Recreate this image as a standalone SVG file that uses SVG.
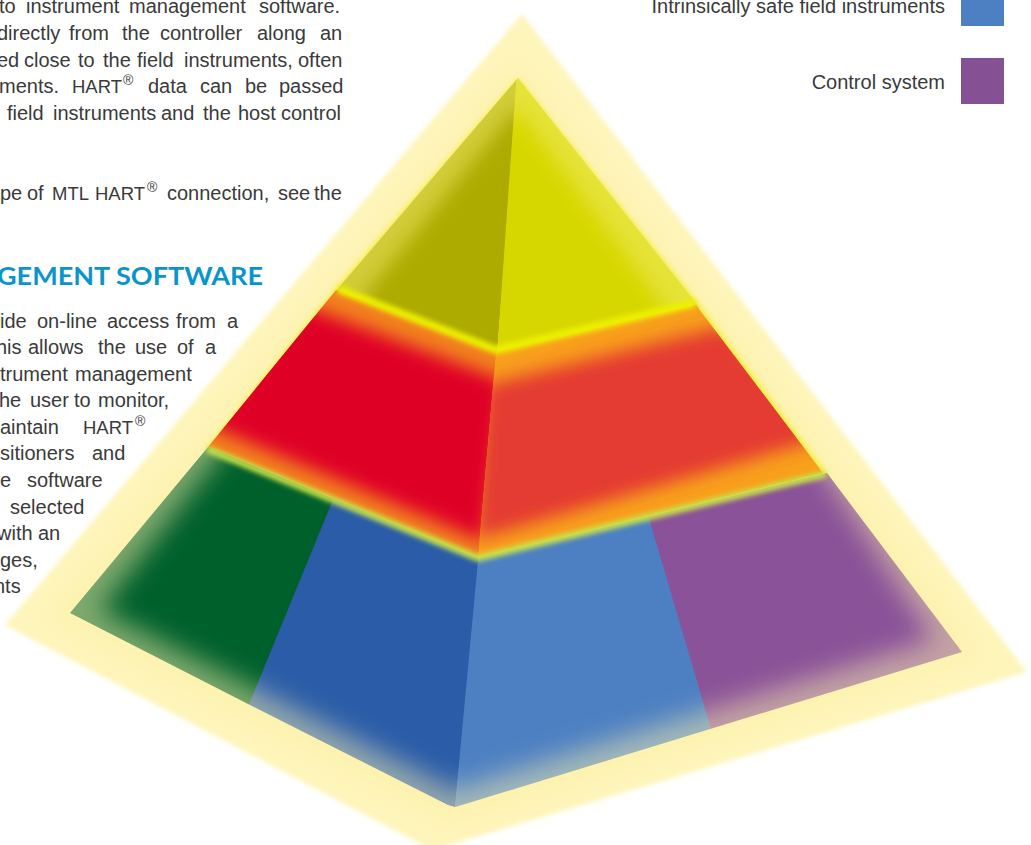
<svg xmlns="http://www.w3.org/2000/svg" width="1031" height="845" viewBox="0 0 1031 845">
<style>
text{font-family:"Liberation Sans",Arial,sans-serif;font-size:20px;fill:#3a3a3a}
.r{font-size:14px}
.c{font-size:18.5px}
.h{font-family:Lato,"Open Sans",sans-serif;font-size:25px;font-weight:700;fill:#0a94cc}
</style>
<defs>
<filter id="b1" x="-10%" y="-10%" width="120%" height="120%"><feGaussianBlur stdDeviation="2"/></filter>
<filter id="b2" x="-10%" y="-10%" width="120%" height="120%"><feGaussianBlur stdDeviation="2.4"/></filter>
<filter id="b6" x="-20%" y="-20%" width="140%" height="140%"><feGaussianBlur stdDeviation="9"/></filter>
<filter id="b9" x="-20%" y="-20%" width="140%" height="140%"><feGaussianBlur stdDeviation="13"/></filter>
<clipPath id="cBot"><polygon points="70,613 208,447 478,558 827,473 962,652 462,805 455,807 448,805 250,705"/></clipPath>
<clipPath id="cTop"><polygon points="518,78 700,308 497,360 335,292"/></clipPath>
<clipPath id="redL"><polygon points="336,290 497,352 479,558 208,447"/></clipPath>
<clipPath id="redR"><polygon points="496,352 696,305 823,473 478,558"/></clipPath>
<mask id="mBot" maskUnits="userSpaceOnUse" x="0" y="400" width="1031" height="445">
<rect x="0" y="400" width="1031" height="445" fill="#808080"/>
<polygon points="255,410 790,420 934,640 455,790 100,610" fill="#fff" filter="url(#b9)"/>
</mask>
<mask id="mTop" maskUnits="userSpaceOnUse" x="300" y="40" width="430" height="340">
<rect x="300" y="40" width="430" height="340" fill="#808080"/>
<polygon points="517,108 690,340 497,380 345,320" fill="#fff" filter="url(#b6)"/>
</mask>
</defs>
<polygon points="522,14 1027,672 432,850 5,625" fill="#fef5bc" filter="url(#b1)"/>
<polygon points="518,60 715,305 985,656 452,825 45,618 335,275" fill="#fdf2ae" filter="url(#b9)"/>
<polygon points="518,78 700,305 827,473 478,558 208,447 336,288" fill="#f5ee40" filter="url(#b2)"/>
<g mask="url(#mBot)" clip-path="url(#cBot)">
<rect x="0" y="400" width="1031" height="445" fill="#fdf0a6"/>
<polygon points="20,640 208,420 345,487 220,775" fill="#00602c"/>
<polygon points="337,490 481,550 450,860 220,775" fill="#2a5ca8"/>
<polygon points="479,550 649,515 730,790 450,860" fill="#4d80c2"/>
<polygon points="648,515 830,450 1010,660 729,790" fill="#8a5298"/>
</g>
<g clip-path="url(#cTop)">
<rect x="300" y="60" width="430" height="320" fill="#f4ee70"/>
<g mask="url(#mTop)">
<polygon points="519,70 497,355 320,300" fill="#adaa00"/>
<polygon points="517,70 715,310 497,355" fill="#d7d700"/>
</g>
</g>
<g clip-path="url(#redL)">
<rect x="200" y="280" width="300" height="280" fill="#f2821f"/>
<polygon points="270,293 505,381 485,542 195,420" fill="#df0028" filter="url(#b6)"/>
</g>
<g clip-path="url(#redR)">
<rect x="475" y="300" width="350" height="260" fill="#f8a01c"/>
<polygon points="485,385 725,326 830,436 475,540" fill="#e43a30" filter="url(#b6)"/>
</g>
<polyline points="338,289 496,350 695,303" fill="none" stroke="#eef000" stroke-width="8" filter="url(#b2)"/>
<polyline points="207,449 478,558 826,474" fill="none" stroke="#c8e34a" stroke-width="7" filter="url(#b2)"/>
<g id="copy">
<text y="13"><tspan x="-1">to</tspan><tspan x="26">instrument</tspan><tspan x="129">management</tspan><tspan x="259">software.</tspan></text>
<text y="40"><tspan x="-3">directly</tspan><tspan x="69">from</tspan><tspan x="122">the</tspan><tspan x="160">controller</tspan><tspan x="257">along</tspan><tspan x="320">an</tspan></text>
<text y="67"><tspan x="-3">ed</tspan><tspan x="24">close</tspan><tspan x="78">to</tspan><tspan x="103">the</tspan><tspan x="137">field</tspan><tspan x="184">instruments,</tspan><tspan x="298">often</tspan></text>
<text y="93"><tspan x="-1">ments.</tspan><tspan x="72" class="c">HART</tspan><tspan x="123" y="85" class="r">®</tspan><tspan x="148" y="93">data</tspan><tspan x="200">can</tspan><tspan x="245">be</tspan><tspan x="279">passed</tspan></text>
<text y="120"><tspan x="7">field</tspan><tspan x="53">instruments</tspan><tspan x="161">and</tspan><tspan x="203">the</tspan><tspan x="238">host</tspan><tspan x="281">control</tspan></text>
<text y="200"><tspan x="0">pe</tspan><tspan x="27">of</tspan><tspan x="52" class="c">MTL</tspan><tspan x="95" class="c">HART</tspan><tspan x="147" y="192" class="r">®</tspan><tspan x="167" y="200">connection,</tspan><tspan x="278">see</tspan><tspan x="314">the</tspan></text>
<text class="h" x="-3" y="285" textLength="266" lengthAdjust="spacingAndGlyphs">GEMENT SOFTWARE</text>
<text y="328"><tspan x="0">ide</tspan><tspan x="37">on-line</tspan><tspan x="107">access</tspan><tspan x="176">from</tspan><tspan x="227">a</tspan></text>
<text y="354"><tspan x="-4">his</tspan><tspan x="28">allows</tspan><tspan x="98">the</tspan><tspan x="135">use</tspan><tspan x="177">of</tspan><tspan x="205">a</tspan></text>
<text y="381"><tspan x="0">trument</tspan><tspan x="75">management</tspan></text>
<text y="407"><tspan x="-1">he</tspan><tspan x="30">user</tspan><tspan x="74">to</tspan><tspan x="98">monitor,</tspan></text>
<text y="434"><tspan x="0">aintain</tspan><tspan x="83" class="c">HART</tspan><tspan x="135" y="426" class="r">®</tspan></text>
<text y="460"><tspan x="0">sitioners</tspan><tspan x="92">and</tspan></text>
<text y="487"><tspan x="0">e</tspan><tspan x="27">software</tspan></text>
<text x="10" y="514">selected</text>
<text y="540"><tspan x="-3">with</tspan><tspan x="38">an</tspan></text>
<text x="0" y="567">ges,</text>
<text x="-6" y="593">nts</text>
</g>
<g id="legend">
<rect x="961" y="-20" width="43" height="46" fill="#4d80c2"/>
<rect x="961" y="58" width="43" height="46" fill="#865095"/>
<text x="945" y="13" text-anchor="end">Intrinsically safe field instruments</text>
<text x="945" y="89" text-anchor="end">Control system</text>
</g>
</svg>
